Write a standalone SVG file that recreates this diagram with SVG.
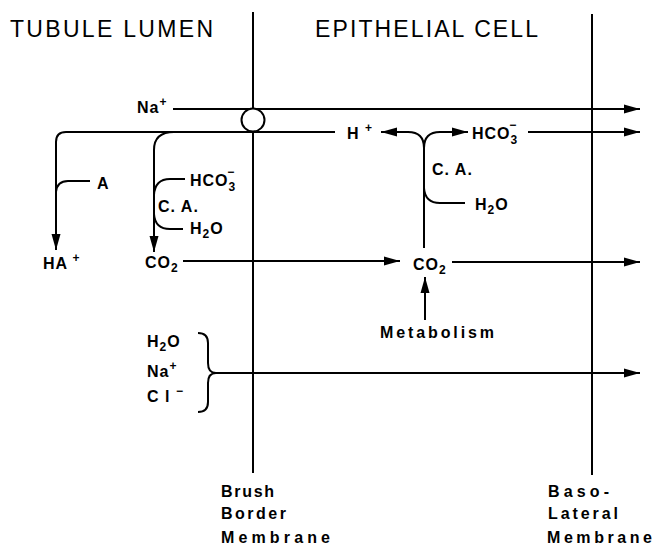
<svg xmlns="http://www.w3.org/2000/svg" width="655" height="545" viewBox="0 0 655 545">
<style>
  .ln { fill: none; stroke: #000; stroke-width: 2; }
  .ar { fill: none; stroke: #000; stroke-width: 2; marker-end: url(#ah); }
  .title { font-family: "Liberation Sans", Arial, sans-serif; font-size: 23px; fill: #000; }
  .lb { font-family: "Liberation Sans", Arial, sans-serif; font-size: 16px; font-weight: bold; fill: #000; letter-spacing: 1px; }
  .sm { font-size: 12px; }
</style>
<defs>
  <marker id="ah" markerUnits="userSpaceOnUse" markerWidth="16" markerHeight="10" refX="16" refY="5" orient="auto">
    <path d="M0,0.5 L16,5 L0,9.5 Z" fill="#000"/>
  </marker>
</defs>
<rect width="655" height="545" fill="#fff"/>

<g id="titles">
  <text class="title" x="10" y="37" textLength="203" lengthAdjust="spacing">TUBULE LUMEN</text>
  <text class="title" x="315" y="37" textLength="223" lengthAdjust="spacing">EPITHELIAL  CELL</text>
</g>

<g id="connectors">
  <path class="ln" d="M253,12 L253,108.5"/>
  <path class="ln" d="M253,131.5 L253,473"/>
  <path class="ln" d="M592,14 L592,475"/>
  <path class="ar" d="M173,109 L640,109"/>
  <path class="ar" d="M335,132 L66,132 Q56,132 56,142 L56,250"/>
  <path class="ar" d="M174,132 Q154,132 154,150 L154,252"/>
  <path class="ln" d="M90,181 L68,181 Q57,181 56,192"/>
  <path class="ln" d="M185,179 L170,179 Q155,179 154,195"/>
  <path class="ln" d="M183,229 L170,229 Q155,229 154,214"/>
  <path class="ar" d="M183,261 L400,261"/>
  <path class="ln" d="M424,248 L424,148"/>
  <path class="ar" d="M424,148 Q424,132 408,132 L381,132"/>
  <path class="ar" d="M424,148 Q424,132 440,132 L468,132"/>
  <path class="ln" d="M465,203 L440,203 Q425,203 424,188"/>
  <path class="ar" d="M528,132 L640,132"/>
  <path class="ar" d="M452,262 L640,262"/>
  <path class="ar" d="M425,320 L425,277"/>
  <path class="ln" d="M198,333 Q208,333 208,343 L208,363 Q208,373 216,373 Q208,373 208,383 L208,402 Q208,412 198,412"/>
  <path class="ar" d="M216,373 L640,373"/>
</g>

<g id="cotransporter">
  <circle cx="253" cy="120" r="11.5" fill="#fff" stroke="#000" stroke-width="2"/>
</g>

<g id="na-lumen"><text class="lb" x="137" y="113">Na<tspan class="sm" dy="-7">+</tspan></text></g>
<g id="h-plus"><text class="lb" x="347" y="139">H <tspan class="sm" dy="-7">+</tspan></text></g>
<g id="hco3-cell"><text class="lb" x="472" y="139">HCO<tspan class="sm" dy="5">3</tspan><tspan class="sm" dx="-9" dy="-15">−</tspan></text></g>
<g id="ca-cell"><text class="lb" x="432" y="175">C. A.</text></g>
<g id="h2o-cell"><text class="lb" x="475" y="210">H<tspan class="sm" dy="4">2</tspan><tspan dy="-4">O</tspan></text></g>
<g id="a-anion"><text class="lb" x="97" y="189">A</text></g>
<g id="ha"><text class="lb" x="43" y="269">HA<tspan class="sm" dy="-7"> +</tspan></text></g>
<g id="hco3-lumen"><text class="lb" x="190" y="186">HCO<tspan class="sm" dy="5">3</tspan><tspan class="sm" dx="-9" dy="-15">−</tspan></text></g>
<g id="ca-lumen"><text class="lb" x="158" y="212">C. A.</text></g>
<g id="h2o-lumen"><text class="lb" x="190" y="234">H<tspan class="sm" dy="4">2</tspan><tspan dy="-4">O</tspan></text></g>
<g id="co2-lumen"><text class="lb" x="145" y="268">CO<tspan class="sm" dy="4">2</tspan></text></g>
<g id="co2-cell"><text class="lb" x="413" y="270">CO<tspan class="sm" dy="4">2</tspan></text></g>
<g id="metabolism"><text class="lb" x="380" y="338" textLength="115" lengthAdjust="spacing">Metabolism</text></g>
<g id="solutes">
  <text class="lb" x="147" y="347">H<tspan class="sm" dy="4">2</tspan><tspan dy="-4">O</tspan></text>
  <text class="lb" x="147" y="377">Na<tspan class="sm" dy="-7">+</tspan></text>
  <text class="lb" x="147" y="402">C l <tspan class="sm" dy="-7">−</tspan></text>
</g>
<g id="brush-border-label">
  <text class="lb" x="221" y="497" textLength="54" lengthAdjust="spacing">Brush</text>
  <text class="lb" x="221" y="519" textLength="66" lengthAdjust="spacing">Border</text>
  <text class="lb" x="221" y="543" textLength="110" lengthAdjust="spacing">Membrane</text>
</g>
<g id="basolateral-label">
  <text class="lb" x="548" y="497" textLength="62" lengthAdjust="spacing">Baso-</text>
  <text class="lb" x="548" y="519" textLength="71" lengthAdjust="spacing">Lateral</text>
  <text class="lb" x="547" y="543" textLength="106" lengthAdjust="spacing">Membrane</text>
</g>
</svg>
